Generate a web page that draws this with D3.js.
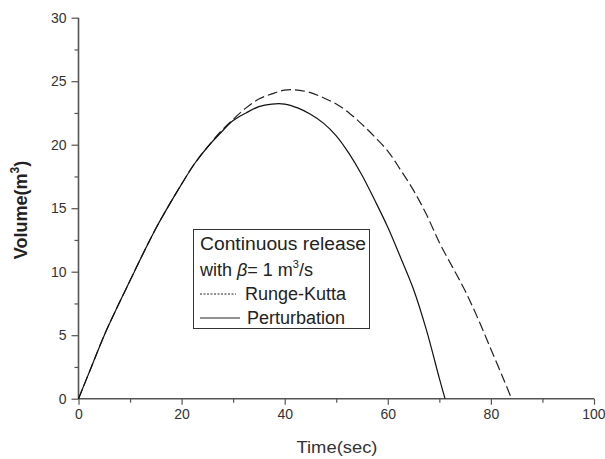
<!DOCTYPE html>
<html><head><meta charset="utf-8">
<script src="https://cdn.jsdelivr.net/npm/d3@7"></script>
<style>body{margin:0;background:#fff}svg{display:block}text{font-family:Arial,"Liberation Sans",sans-serif}</style>
</head><body>
<script>
const pertT = [0,2.5,5,7.5,10,12.5,15,17.5,20,22.5,25,27.5,30,32.5,35,37.5,40,42.5,45,47.5,50,52.5,55,57.5,60,62.5,65,67.5,70,71.1];
const pertV = [0,2.5,5.0,7.2,9.3,11.4,13.4,15.2,16.9,18.5,19.8,20.9,21.9,22.5,23.0,23.2,23.2,22.9,22.4,21.7,20.7,19.3,17.6,15.6,13.5,11.1,8.6,5.4,1.6,0];
const rkT = [0,2.5,5,7.5,10,12.5,15,17.5,20,22.5,25,27.5,30,32.5,35,37.5,40,42.5,45,47.5,50,52.5,55,57.5,60,62.5,65,67.5,70,72.5,75,77.5,80,82.5,84];
const rkV = [0,2.5,5.0,7.2,9.3,11.4,13.4,15.2,16.9,18.5,19.8,21.0,22.0,22.9,23.6,24.0,24.3,24.3,24.1,23.7,23.2,22.5,21.6,20.6,19.5,18.0,16.4,14.5,12.3,10.4,8.5,6.3,3.9,1.5,0];
const xTicks = [0,20,40,60,80,100];
const xMinor = [10,30,50,70,90];
const yTicks = [0,5,10,15,20,25,30];
const yMinor = [2.5,7.5,12.5,17.5,22.5,27.5];

const W=605,H=459;
const svg=d3.select("body").append("svg").attr("width",W).attr("height",H);
const x=d3.scaleLinear().domain([0,100]).range([78.5,594]);
const y=d3.scaleLinear().domain([0,30]).range([398.7,17.7]);
const axisCol="#555", txtCol="#333";

const gx=svg.append("g").attr("transform",`translate(0,${y(0)})`)
  .call(d3.axisBottom(x).tickValues(xTicks).tickSize(6).tickPadding(4).tickFormat(d3.format("d")));
const gxm=svg.append("g").attr("transform",`translate(0,${y(0)})`)
  .call(d3.axisBottom(x).tickValues(xMinor).tickSize(4).tickFormat(""));
const gy=svg.append("g").attr("transform",`translate(${x(0)},0)`)
  .call(d3.axisLeft(y).tickValues(yTicks).tickSize(7).tickPadding(5).tickFormat(d3.format("d")));
const gym=svg.append("g").attr("transform",`translate(${x(0)},0)`)
  .call(d3.axisLeft(y).tickValues(yMinor).tickSize(4).tickFormat(""));
[gx,gxm,gy,gym].forEach(g=>{
  g.select(".domain").attr("stroke",axisCol).attr("stroke-width",1.6);
  g.selectAll(".tick line").attr("stroke",axisCol).attr("stroke-width",1.2);
  g.selectAll(".tick text").attr("fill",txtCol).style("font-size","14px").style("font-family","Arial, 'Liberation Sans', sans-serif");
});
gx.select(".domain").attr("d",`M${x(0)},0H${x(100)}`);
gy.select(".domain").attr("d",`M0,${y(0)}V${y(30)}`);
gxm.select(".domain").remove(); gym.select(".domain").remove();
gx.selectAll(".tick text").filter(d=>d===100).attr("text-anchor","end").attr("x",11);

const line=d3.line().x(d=>x(d[0])).y(d=>y(d[1])).curve(d3.curveCatmullRom.alpha(0.5));
svg.append("path").datum(rkT.map((t,i)=>[t,rkV[i]])).attr("d",line)
  .attr("fill","none").attr("stroke","#222").attr("stroke-width",1.2).attr("stroke-dasharray","10,4");
svg.append("path").datum(pertT.map((t,i)=>[t,pertV[i]])).attr("d",line)
  .attr("fill","none").attr("stroke","#111").attr("stroke-width",1.2);

svg.append("text").attr("x",337).attr("y",453).attr("text-anchor","middle")
  .attr("fill",txtCol).style("font-size","17px").attr("textLength",81).attr("lengthAdjust","spacingAndGlyphs").text("Time(sec)");
const yl=svg.append("text").attr("transform","translate(27,210) rotate(-90)").attr("text-anchor","middle")
  .attr("fill","#222").style("font-size","18px").style("font-weight","bold");
yl.append("tspan").text("Volume(m");
yl.append("tspan").attr("dy",-8).style("font-size","12px").text("3");
yl.append("tspan").attr("dy",8).text(")");

const lg=svg.append("g");
lg.append("rect").attr("x",193.5).attr("y",229.5).attr("width",176).attr("height",99)
  .attr("fill","#fff").attr("stroke","#333").attr("stroke-width",1);
const fs="18px";
lg.append("text").attr("x",200).attr("y",250).style("font-size",fs).attr("fill","#222")
  .attr("textLength",166).attr("lengthAdjust","spacingAndGlyphs").text("Continuous release");
const t2=lg.append("text").attr("x",200).attr("y",276).style("font-size",fs).attr("fill","#222");
t2.append("tspan").text("with ");
t2.append("tspan").style("font-style","italic").text("β");
t2.append("tspan").text("= 1 m");
t2.append("tspan").attr("dy",-8).style("font-size","11px").text("3");
t2.append("tspan").attr("dy",8).text("/s");
lg.append("line").attr("x1",200).attr("x2",236).attr("y1",294).attr("y2",294)
  .attr("stroke","#222").attr("stroke-width",1).attr("stroke-dasharray","2,1.5");
lg.append("text").attr("x",245).attr("y",300).style("font-size",fs).attr("fill","#222").text("Runge-Kutta");
lg.append("line").attr("x1",200).attr("x2",240).attr("y1",318).attr("y2",318)
  .attr("stroke","#222").attr("stroke-width",1);
lg.append("text").attr("x",247).attr("y",324).style("font-size",fs).attr("fill","#222").text("Perturbation");
</script>
</body></html>
